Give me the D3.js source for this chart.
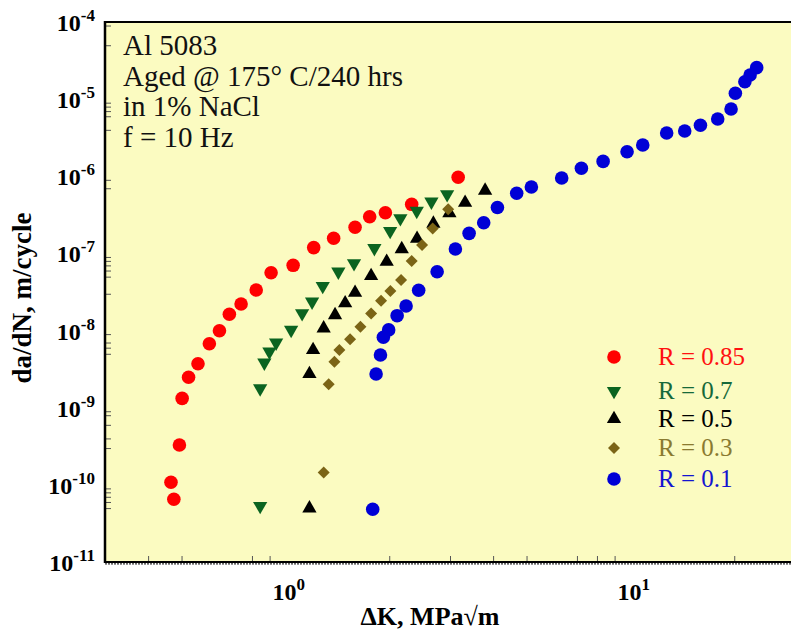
<!DOCTYPE html>
<html>
<head>
<meta charset="utf-8">
<script src="https://cdn.jsdelivr.net/npm/d3@7"></script>
<style>
  html, body { margin: 0; padding: 0; background: #fff; }
  svg { display: block; font-family: "Liberation Serif", "Times New Roman", serif; }
</style>
</head>
<body>
<div id="chart"></div>
<script>
// ── Data (ΔK in MPa√m, da/dN in m/cycle) ──
const dK_085   = [0.466, 0.475, 0.493, 0.502, 0.524, 0.558, 0.602, 0.644, 0.688, 0.744, 0.823, 0.909, 1.053, 1.208, 1.380, 1.592, 1.755, 1.949, 2.323, 3.168];
const dadN_085 = [1.08e-10, 6.5e-11, 3.28e-10, 1.32e-9, 2.48e-9, 3.72e-9, 6.76e-9, 9.96e-9, 1.63e-8, 2.21e-8, 3.36e-8, 5.62e-8, 7.01e-8, 1.19e-7, 1.57e-7, 2.18e-7, 2.99e-7, 3.37e-7, 4.33e-7, 9.70e-7];

const dK_07    = [0.845, 0.845, 0.869, 0.899, 0.940, 1.039, 1.118, 1.195, 1.283, 1.424, 1.581, 1.811, 2.012, 2.154, 2.403, 2.650, 2.943];
const dadN_07  = [5.32e-11, 1.78e-9, 3.83e-9, 5.32e-9, 6.96e-9, 1.02e-8, 1.67e-8, 2.37e-8, 3.78e-8, 5.79e-8, 7.44e-8, 1.17e-7, 1.95e-7, 2.85e-7, 3.55e-7, 4.68e-7, 5.84e-7];

const dK_05    = [1.174, 1.174, 1.203, 1.291, 1.393, 1.490, 1.592, 1.772, 1.966, 2.174, 2.408, 2.685, 2.988, 3.318, 3.792];
const dadN_05  = [4.96e-11, 2.74e-9, 5.60e-9, 1.07e-8, 1.59e-8, 2.26e-8, 3.10e-8, 5.10e-8, 7.81e-8, 1.14e-7, 1.55e-7, 2.44e-7, 3.34e-7, 4.55e-7, 6.54e-7];

const dK_03    = [1.291, 1.335, 1.387, 1.434, 1.540, 1.650, 1.772, 1.894, 2.015, 2.164, 2.323, 2.490, 2.673, 2.964];
const dadN_03  = [1.45e-10, 2.01e-9, 3.95e-9, 5.60e-9, 7.70e-9, 1.12e-8, 1.67e-8, 2.44e-8, 3.26e-8, 4.52e-8, 7.97e-8, 1.29e-7, 2.10e-7, 3.73e-7];

const dK_01    = [1.791, 1.832, 1.886, 1.923, 1.992, 2.108, 2.238, 2.434, 2.753, 3.110, 3.408, 3.757, 4.117, 4.682, 5.164, 6.322, 7.211, 8.335, 9.781, 10.86, 12.74, 14.37, 15.96, 17.91, 19.58, 20.15, 21.47, 22.23, 23.23];
const dadN_01  = [4.82e-11, 2.74e-9, 4.82e-9, 8.18e-9, 1.02e-8, 1.56e-8, 2.08e-8, 3.33e-8, 5.79e-8, 1.14e-7, 1.82e-7, 2.50e-7, 3.94e-7, 6.02e-7, 7.26e-7, 9.50e-7, 1.27e-6, 1.56e-6, 2.08e-6, 2.54e-6, 3.64e-6, 3.86e-6, 4.58e-6, 5.53e-6, 7.45e-6, 1.19e-5, 1.68e-5, 2.06e-5, 2.56e-5];

const seriesLabels = ['R = 0.85', 'R = 0.7', 'R = 0.5', 'R = 0.3', 'R = 0.1'];
const noteLines    = ['Al 5083', 'Aged @ 175\u00B0 C/240 hrs', 'in 1% NaCl', 'f = 10 Hz'];

// axis ticks
const xMajor = [0, 1];                       // exponents of 10
const yMajor = [-4, -5, -6, -7, -8, -9, -10, -11];
const xMinor = [0.4, 0.5, 0.8, 0.9, 2, 3, 4, 5, 7, 8, 9, 20];
const yMinor = [9e-5, 5e-5, 9e-6, 8e-6, 7e-6, 6e-6, 4e-6, 9e-7, 7e-7,
                9e-8, 8e-8, 7e-8, 6e-8, 5e-8, 3e-8, 9e-9, 7e-9, 6e-9, 5e-9,
                9e-10, 8e-10, 6e-10, 4e-10, 3e-10, 9e-11, 8e-11, 7e-11, 6e-11, 5e-11];

// ── Layout ──
const W = 791, H = 632;
const plot = { left: 105, top: 22, right: 795, bottom: 562 };

const series = [
  { x: dK_085, y: dadN_085, shape: 'circle',  fill: '#ff0000', text: '#ff1010' },
  { x: dK_07,  y: dadN_07,  shape: 'tridown', fill: '#0b6420', text: '#16693a' },
  { x: dK_05,  y: dadN_05,  shape: 'triup',   fill: '#000000', text: '#000000' },
  { x: dK_03,  y: dadN_03,  shape: 'diamond', fill: '#7b6416', text: '#8a7a30' },
  { x: dK_01,  y: dadN_01,  shape: 'circle',  fill: '#0000d6', text: '#1414d0' }
];

const svg = d3.select('#chart').append('svg')
  .attr('width', W)
  .attr('height', H);

const x = d3.scaleLog().domain([0.3, 30]).range([plot.left, plot.right]);
const y = d3.scaleLog().domain([1e-11, 1e-4]).range([plot.bottom, plot.top]);

// background
svg.append('rect')
  .attr('x', plot.left).attr('y', plot.top)
  .attr('width', plot.right - plot.left)
  .attr('height', plot.bottom - plot.top)
  .attr('fill', '#fbfbc1');

// ── Ticks (inward) ──
svg.append('g')
  .attr('transform', `translate(${plot.left},0)`)
  .call(d3.axisLeft(y).tickValues(yMinor).tickSize(-6).tickFormat(''))
  .call(g => g.select('.domain').remove())
  .selectAll('line').attr('stroke', '#555');

svg.append('g')
  .attr('transform', `translate(0,${plot.bottom})`)
  .call(d3.axisBottom(x).tickValues(xMinor).tickSize(-6).tickFormat(''))
  .call(g => g.select('.domain').remove())
  .selectAll('line').attr('stroke', '#555');

// frame: top, left, bottom
svg.append('line')
  .attr('x1', plot.left).attr('x2', W).attr('y1', plot.top).attr('y2', plot.top)
  .attr('stroke', '#000').attr('stroke-width', 2);
svg.append('line')
  .attr('x1', plot.left).attr('x2', plot.left).attr('y1', plot.top - 1).attr('y2', plot.bottom + 1)
  .attr('stroke', '#000').attr('stroke-width', 2.5);
svg.append('line')
  .attr('x1', plot.left).attr('x2', W).attr('y1', plot.bottom).attr('y2', plot.bottom)
  .attr('stroke', '#000').attr('stroke-width', 2);
svg.append('line')
  .attr('x1', plot.left).attr('x2', W).attr('y1', plot.bottom + 1.8).attr('y2', plot.bottom + 1.8)
  .attr('stroke', '#333').attr('stroke-width', 1.2).attr('stroke-dasharray', '2,1');

// ── Tick labels ──
const yLab = svg.append('g').selectAll('text')
  .data(yMajor).enter().append('text')
  .attr('x', 95)
  .attr('y', d => y(Math.pow(10, d)) + 9)
  .attr('text-anchor', 'end')
  .style('font-weight', 'bold')
  .style('font-size', '24px');
yLab.append('tspan').text('10');
yLab.append('tspan').attr('dy', -10).style('font-size', '17px').text(d => d);

const xLab = svg.append('g').selectAll('text')
  .data(xMajor).enter().append('text')
  .attr('x', d => x(Math.pow(10, d)) - 13)
  .attr('y', 600)
  .style('font-weight', 'bold')
  .style('font-size', '24px');
xLab.append('tspan').text('10');
xLab.append('tspan').attr('dy', -10).style('font-size', '17px').text(d => d);

// ── Axis titles ──
svg.append('text')
  .attr('x', 430).attr('y', 625)
  .attr('text-anchor', 'middle')
  .style('font-weight', 'bold')
  .style('font-size', '26px')
  .text('\u0394K, MPa\u221Am');

svg.append('text')
  .attr('transform', 'translate(31,298) rotate(-90)')
  .attr('text-anchor', 'middle')
  .style('font-weight', 'bold')
  .style('font-size', '27px')
  .text('da/dN, m/cycle');

// ── Markers ──
function symbolPath(shape) {
  if (shape === 'circle')  return d3.symbol(d3.symbolCircle, 145)();
  if (shape === 'diamond') return d3.symbol(d3.symbolSquare, 72)();
  return d3.symbol(d3.symbolTriangle, 88)();
}
function symbolRot(shape) {
  if (shape === 'tridown') return ' rotate(180)';
  if (shape === 'diamond') return ' rotate(45)';
  return '';
}

series.forEach(s => {
  const pts = s.x.map((v, i) => ({ k: v, r: s.y[i] }));
  svg.append('g').selectAll('path')
    .data(pts).enter().append('path')
    .attr('d', symbolPath(s.shape))
    .attr('transform', d => `translate(${x(d.k)},${y(d.r)})${symbolRot(s.shape)}`)
    .attr('fill', s.fill);
});

// ── Legend ──
const legendY = [357, 391, 419, 448, 479];
series.forEach((s, i) => {
  svg.append('path')
    .attr('d', symbolPath(s.shape))
    .attr('transform', `translate(614,${legendY[i]})${symbolRot(s.shape)}`)
    .attr('fill', s.fill);
  svg.append('text')
    .attr('x', 658).attr('y', legendY[i] + 8)
    .attr('fill', s.text)
    .style('font-size', '25px')
    .text(seriesLabels[i]);
});

// ── Annotation ──
svg.append('g').selectAll('text')
  .data(noteLines).enter().append('text')
  .attr('x', 123)
  .attr('y', (d, i) => 55 + i * 30.5)
  .attr('fill', '#111')
  .style('font-size', '29px')
  .text(d => d);
</script>
</body>
</html>
